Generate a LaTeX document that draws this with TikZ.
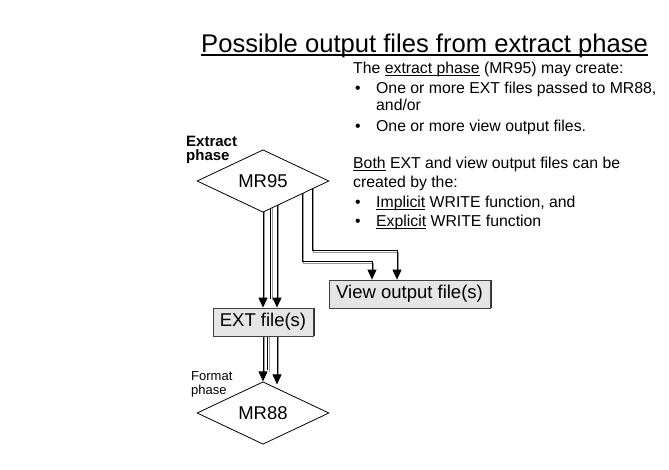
\documentclass[tikz,border=0pt]{standalone}
\usepackage{fontspec}
\setmainfont{Liberation Sans}
\usetikzlibrary{shapes.geometric,arrows.meta,calc,backgrounds}
\newcommand\myul[1]{\setbox0\hbox{#1}\rlap{\rule[-2.3pt]{\wd0}{0.8pt}}\box0\relax}
\newcommand\myulT[1]{\setbox0\hbox{#1}\rlap{\rule[-3.6pt]{\wd0}{1.4pt}}\box0\relax}
\begin{document}
\begin{tikzpicture}[x=1pt,y=-1pt,
  every node/.style={inner sep=0pt},
  body/.style={anchor=base west, font=\fontsize{15.8}{19}\selectfont},
  lbl/.style={anchor=base west, font=\fontsize{13}{15}\selectfont},
  diam/.style={diamond, draw, fill=white, minimum width=132pt, minimum height=29pt, font=\fontsize{18.5}{21}\selectfont, line width=0.8pt},
  filebox/.style={rectangle, draw=black!75, fill=black!10, minimum height=28pt, font=\fontsize{18.5}{21}\selectfont, line width=0.8pt},
  arr/.style={draw=black, line width=0.9pt, -{Triangle[length=10pt,width=9pt]}},
  ln/.style={draw=black, line width=0.9pt},
  shad/.style={draw=black!40, line width=0.9pt, transform canvas={xshift=1.7pt,yshift=-1.7pt}},
  edge2/.style={draw=black!80, line width=0.9pt},
]
\useasboundingbox (0,0) rectangle (669,469);

% title
\node[anchor=base west, font=\fontsize{25.6}{30}\selectfont] (title) at (201,52) {\myulT{Possible output files from extract phase}};

% explanatory text
\node[body] (t1) at (353,73) {The \myul{extract phase} (MR95) may create:};
\node[body] (b1) at (355,93) {•};
\node[body] (t2) at (376,93) {One or more EXT files passed to MR88,};
\node[body] (t3) at (376,110) {and/or};
\node[body] (b2) at (355,131) {•};
\node[body] (t4) at (376,131) {One or more view output files.};
\node[body] (t5) at (353,168) {\myul{Both} EXT and view output files can be};
\node[body] (t6) at (353,187) {created by the:};
\node[body] (b3) at (355,207) {•};
\node[body] (t7) at (376,207) {\myul{Implicit} WRITE function, and};
\node[body] (b4) at (355,226) {•};
\node[body] (t8) at (376,226) {\myul{Explicit} WRITE function};

% phase labels
\node[lbl, font=\bfseries\fontsize{15}{17}\selectfont] (xl1) at (186,146) {Extract};
\node[lbl, font=\bfseries\fontsize{15}{17}\selectfont] (xl2) at (186,160) {phase};
\node[lbl] (fl1) at (191,380) {Format};
\node[lbl] (fl2) at (191,394) {phase};

% nodes
\node[diam] (mr95) at (263,181) {MR95};
\node[diam] (mr88) at (263,413) {MR88};
\node[filebox, minimum width=100pt] (ext) at (263,322) {EXT file(s)};
\node[filebox, minimum width=161pt] (view) at (409.5,294) {View output file(s)};
\path[edge2] ($(ext.north east)+(1.2,0)$) -- ($(ext.south east)+(1.2,0)$);
\path[edge2] ($(view.north east)+(1.2,0)$) -- ($(view.south east)+(1.2,0)$);

\begin{scope}[on background layer]
% MR95 -> EXT
\path[shad, shorten >=10pt] (mr95.center) -- (ext.north);
\path[arr] (mr95.center) -- (ext.north);
\path[shad] ($(mr95.center)+(7.5,0)$) -- ($(ext.north)+(7.5,-9)$);
\path[ln] ($(mr95.center)+(7.5,0)$) -- ($(ext.north)+(7.5,-9)$);
\path[shad, shorten >=10pt] ($(mr95.center)+(14,0)$) -- ($(ext.north)+(14,0)$);
\path[arr] ($(mr95.center)+(14,0)$) -- ($(ext.north)+(14,0)$);
% EXT -> MR88
\path[shad, shorten >=10pt] (ext.center) -- (mr88.north);
\path[arr] (ext.center) -- (mr88.north);
\path[shad] ($(ext.center)+(4.5,0)$) -- ($(mr88.north)+(4.5,-11)$);
\path[ln] ($(ext.center)+(4.5,0)$) -- ($(mr88.north)+(4.5,-11)$);
\path[shad, shorten >=10pt] ($(ext.center)+(14,0)$) -- ($(mr88.north)+(14,3)$);
\path[arr] ($(ext.center)+(14,0)$) -- ($(mr88.north)+(14,3)$);
% MR95 -> View output
\path[shad, shorten >=10pt] ($(mr95.center)+(39,0)$) |- ($(view.north)+(-37.5,-18)$) -- ($(view.north)+(-37.5,0)$);
\path[arr] ($(mr95.center)+(39,0)$) |- ($(view.north)+(-37.5,-18)$) -- ($(view.north)+(-37.5,0)$);
\path[shad, shorten >=10pt] ($(mr95.center)+(49,0)$) |- ($(view.north)+(-12.5,-29)$) -- ($(view.north)+(-12.5,0)$);
\path[arr] ($(mr95.center)+(49,0)$) |- ($(view.north)+(-12.5,-29)$) -- ($(view.north)+(-12.5,0)$);
\end{scope}
\end{tikzpicture}
\end{document}
